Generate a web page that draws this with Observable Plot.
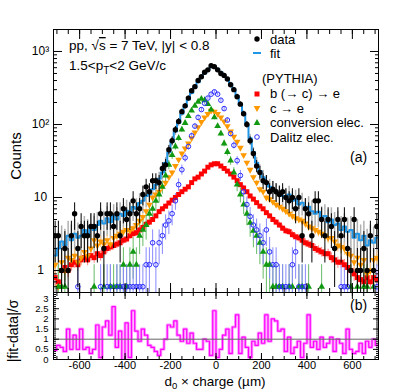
<!DOCTYPE html>
<html><head><meta charset="utf-8">
<script src="https://cdn.jsdelivr.net/npm/d3@7"></script>
<script src="https://cdn.jsdelivr.net/npm/@observablehq/plot@0.6"></script>
<style>
body{margin:0;background:#fff;}
#wrap{position:relative;width:407px;height:391px;overflow:hidden;font-family:"Liberation Sans",Arial,Helvetica,sans-serif;}
#wrap svg{position:absolute;left:0;}
</style></head><body><div id="wrap"></div>
<script>
// ---- binning (categories) ----
const binLow = -715, binWidth = 14.3, nBins = 100;
const centers = d3.range(nBins).map(i => binLow + binWidth * (i + 0.5));

// ---- series values ----
const dataCounts = [3,3,1,2,1,3,6,2,4,3, 3,4,4,3,6,2,6,6,4,6, 3,7,5,6,9,6,7,11,14,12, 17,17,16,25,28,45,60,85,110,150, 180,230,290,330,400,450,520,560,640,620, 560,500,470,420,350,300,240,190,140,100, 60,40,27,22,17,16,12,13,12,11, 12,10,9,10,7,10,3,7,6,3, 9,9,5,3,5,4,2,5,3,5, 2,1,5,1,1,2,1,3,1,4];
const fitValues = [1.6,2.0,2.5,2.2,3.0,2.6,3.2,2.8,3.0,3.6, 3.2,4.0,3.6,4.2,4.8,4.4,5.2,4.6,5.6,5.0, 6.0,5.6,6.6,6.2,7.4,7.0,8.4,9.0,10.5,11, 13,15,18,22,30,42,58,80,105,140, 175,220,270,320,380,440,500,560,610,620, 580,520,470,420,360,300,245,190,140,100, 65,42,30,23,19,16,14,13,12,11, 10.5,10,11,9,9.5,8,8.5,7,7.5,6.5, 6,6.4,5.2,5.6,4.6,5,4.2,4.4,3.6,4, 3.4,3.6,2.8,3.2,2.6,3.0,2.2,2.6,2.4,2.8];
const bceValues = [0.8,0.7,1.0,1.1,1.0,1.2,1.3,1.2,1.4,1.5, 1.4,1.6,1.5,1.7,1.6,1.8,2.0,2.1,2.2,2.3, 2.4,2.6,2.7,3.0,3.2,3.3,3.6,3.9,4.3,4.6, 5.0,5.6,6.4,7.0,7.6,8.4,9.2,10,11,12, 13,14,16,18,19,21,23,26,28,29, 29,27,25,23,21,19,17,15,13.5,12, 10.5,9.5,8.5,7.6,7.0,6.2,5.6,5.0,4.6,4.2, 3.8,3.5,3.4,3.1,2.9,2.8,2.6,2.4,2.3,2.2, 2.0,1.9,1.8,1.7,1.7,1.5,1.4,1.3,1.3,1.2, 1.1,1.0,0.9,0.8,0.75,0.7,0.8,0.7,0.8,0.75];
const ceValues = [1.2,0.6,1.3,1.0,1.5,1.4,1.6,1.3,1.5,1.8, 1.6,2.0,2.6,2.2,2.5,2.3,2.6,2.3,2.8,3.0, 3.2,3.4,3.6,3.5,3.8,4.2,4.8,5.4,6.5,8, 10,11,12,14,16,19,22,27,33,40, 47,55,65,78,92,108,125,140,155,150, 140,125,110,95,80,68,58,48,38,30, 24,19,16,13,12,10,9.5,8.7,8,7.5, 7,6.5,6,5.6,5.2,5,4.8,4.4,4,3.8, 3.6,3.4,3.2,3,2.8,2.8,2.5,2.2,2.1,2.0, 1.7,1.6,1.3,1.5,1.2,1.4,0.9,1.0,1.4,1.5];
const convValues = [0,0.6,0.6,0.6,0,0,0,0,0,0, 0,0,0.6,0,0,0.6,0,0.6,0.6,0.6, 0.6,1.2,0.6,1.2,1.8,1.2,3.0,3.6,4.2,6, 7,9,11,14,20,28,38,50,65,85, 105,130,155,180,205,225,215,190,160,125, 95,75,55,42,32,22,15,11,8,6, 4.5,3.5,3,2.4,1.8,1.2,1.2,0.6,0.6,0.6, 0.6,0,0.6,0.6,0,0.6,0.6,0,0.6,0, 0,0,0.6,0,0,0,0,0,0,0, 0,0.6,0,0.6,0,0.6,0.6,0,0.6,0];
const dalitzValues = [0,0,0,0,0,0,0,0.6,0,0, 0,0,0,0,0.6,0,0.6,0.6,0,0.6, 0.6,0.6,0.6,0.6,0.6,0.6,0.6,0.6,1.2,1.2, 2.4,1.2,2.4,3.0,4.2,4.8,6,9,15,24, 35,50,70,95,125,160,195,230,260,280, 260,215,165,115,75,52,32,20,12,8, 5.5,4.2,3.6,3.0,2.4,3.6,1.8,1.2,1.2,0.6, 0.6,0.6,0.6,1.2,1.8,0.6,0.6,0.6,0,0, 0,0,0,0,0,0,0,0,0.6,0.6, 0.6,0,0,0,0,0,0,0,0,0.6];
const ratioValues = [0.45,0.7,0.6,0.4,1.5,0.5,1.2,0.5,1.5,0.5, 0.6,0.3,0.5,1.7,0.1,1.6,1.9,1.2,2.6,0.6, 1.4,0,1.8,0.1,2.4,1.4,0.9,1.5,1.2,0.7, 0.6,0.4,0.2,0.5,1.0,1.7,1.6,1.9,1.2,0.9, 1.5,0.8,1.3,0.8,0.5,0.5,1.0,0.9,0.2,2.4, 0.1,0.5,1.2,1.5,0.3,1.6,2.2,0.3,1.1,0.6, 0.1,0.9,0.7,1.3,0.8,2.2,0.9,2.0,1.9,1.4, 1.5,0.4,1.1,0.3,0.6,0.9,0.1,0.8,2.2,0.6, 0.9,0.5,1.1,0.6,0.8,1.1,0.4,1.0,0.8,0.3, 1.5,0.5,0.3,0.4,0.8,0.3,0.9,0.6,1.0,0.7];

// ---- axis ticks ----
const xMajorTicks = [-600,-400,-200,0,200,400,600];
const xMinorTicks = d3.range(-700, 701, 50);
const yMajorTicks = [1,10,100,1000];
const yMinorTicks = [0.6,0.7,0.8,0.9,2,3,4,5,6,7,8,9,20,30,40,50,60,70,80,90,200,300,400,500,600,700,800,900,2000];
const yMajorLabels = ["1","10","10²","10³"];
const rMajorTicks = [0,0.5,1,1.5,2,2.5,3];
const rMinorTicks = d3.range(0, 3.31, 0.1);

const FONT = '"Liberation Sans", Arial, Helvetica, sans-serif';
const xDomain = [-715, 715];
const C = {data:"#000000", fit:"#2196e6", b:"#ff0000", c:"#ff9900", conv:"#119911", dal:"#2a2aff", ratio:"#ff00ff"};

const triangleDown = {
  draw(context, size) {
    const y = -Math.sqrt(size / (Math.sqrt(3) * 3));
    context.moveTo(0, -y * 2);
    context.lineTo(-Math.sqrt(3) * y, y);
    context.lineTo(Math.sqrt(3) * y, y);
    context.closePath();
  }
};

function pts(vals, w) {
  return vals.map((v, i) => ({x: centers[i], y: v, e: Math.sqrt(v * w)}))
    .filter(d => d.y > 0)
    .map(d => ({x: d.x, y: d.y, y1: Math.max(d.y - d.e, 0.1), y2: d.y + d.e}));
}
function steps(vals) {
  const s = vals.map((v, i) => ({x: binLow + i * binWidth, y: v}));
  s.push({x: binLow + nBins * binWidth, y: vals[nBins - 1]});
  return s;
}

const dataPts = pts(dataCounts, 1);
const bPts = pts(bceValues, 0.04);
const cPts = pts(ceValues, 0.08);
const convPts = pts(convValues, 0.6);
const dalPts = pts(dalitzValues, 0.6);
const fitPts = pts(fitValues, 1);

const wrap = document.getElementById("wrap");

const topPlot = Plot.plot({
  width: 407, height: 293,
  marginTop: 29, marginBottom: 1, marginLeft: 53, marginRight: 29,
  x: {type: "linear", domain: xDomain, axis: null},
  y: {type: "log", domain: [0.5, 2000], axis: null},
  style: {fontFamily: FONT, background: "transparent", color: "#000"},
  marks: [
    Plot.ruleX(fitPts, {x: "x", y1: "y1", y2: "y2", stroke: "#b0b0b0", strokeWidth: 1.5, clip: true}),
    Plot.ruleX(bPts, {x: "x", y1: "y1", y2: "y2", stroke: "#ff8080", strokeWidth: 1, clip: true}),
    Plot.ruleX(cPts, {x: "x", y1: "y1", y2: "y2", stroke: "#ffc880", strokeWidth: 1, clip: true}),
    Plot.ruleX(convPts, {x: "x", y1: "y1", y2: "y2", stroke: "#66bb66", strokeWidth: 1, clip: true}),
    Plot.ruleX(dalPts, {x: "x", y1: "y1", y2: "y2", stroke: "#8888ff", strokeWidth: 1, clip: true}),
    Plot.dot(bPts, {x: "x", y: "y", symbol: "square", r: 2.8, fill: C.b, stroke: "none", clip: true}),
    Plot.dot(cPts, {x: "x", y: "y", symbol: triangleDown, r: 2.5, fill: C.c, stroke: "none", clip: true}),
    Plot.dot(convPts, {x: "x", y: "y", symbol: "triangle", r: 2.5, fill: C.conv, stroke: "none", clip: true}),
    Plot.dot(dalPts, {x: "x", y: "y", symbol: "circle", r: 2.3, fill: "none", stroke: C.dal, strokeWidth: 1, clip: true}),
    Plot.line(steps(fitValues), {x: "x", y: "y", curve: "step-after", stroke: C.fit, strokeWidth: 2, clip: true}),
    Plot.ruleX(dataPts, {x: "x", y1: "y1", y2: "y2", stroke: "#000", strokeWidth: 1, clip: true}),
    Plot.dot(dataPts, {x: "x", y: "y", r: 2.7, fill: "#000", stroke: "none", clip: true}),
    Plot.frame({stroke: "#000", strokeWidth: 1}),
    Plot.axisY({anchor: "left", ticks: yMajorTicks, tickSize: 0, tickPadding: 13, textAnchor: "middle", tickFormat: (d, i) => yMajorLabels[yMajorTicks.indexOf(d)], fontSize: 12, label: null}),
    Plot.axisY({anchor: "left", ticks: yMajorTicks, tickSize: -9, fill: "none", label: null}),
    Plot.axisY({anchor: "left", ticks: yMinorTicks, tickSize: -4, fill: "none", label: null}),
    Plot.axisY({anchor: "right", ticks: yMajorTicks, tickSize: -9, fill: "none", label: null}),
    Plot.axisY({anchor: "right", ticks: yMinorTicks, tickSize: -4, fill: "none", label: null}),
    Plot.axisX({anchor: "bottom", ticks: xMajorTicks, tickSize: -9, fill: "none", label: null}),
    Plot.axisX({anchor: "bottom", ticks: xMinorTicks, tickSize: -4, fill: "none", label: null}),
    Plot.axisX({anchor: "top", ticks: xMajorTicks, tickSize: -9, fill: "none", label: null}),
    Plot.axisX({anchor: "top", ticks: xMinorTicks, tickSize: -4, fill: "none", label: null})
  ]
});
topPlot.style.top = "0px";
wrap.appendChild(topPlot);

const botPlot = Plot.plot({
  width: 407, height: 100,
  marginTop: 1, marginBottom: 32, marginLeft: 53, marginRight: 29,
  x: {type: "linear", domain: xDomain, axis: null},
  y: {type: "linear", domain: [0, 3.3], axis: null},
  style: {fontFamily: FONT, background: "transparent", color: "#000"},
  marks: [
    Plot.line(steps(ratioValues), {x: "x", y: "y", curve: "step-after", stroke: "#ff9cff", strokeWidth: 3, clip: true}),
    Plot.line(steps(ratioValues), {x: "x", y: "y", curve: "step-after", stroke: C.ratio, strokeWidth: 1.2, clip: true}),
    Plot.ruleY([1], {stroke: "#666", strokeWidth: 1}),
    Plot.frame({stroke: "#000", strokeWidth: 1}),
    Plot.axisY({anchor: "left", ticks: rMajorTicks, tickSize: 0, tickPadding: 5, tickFormat: d => String(d), fontSize: 9.5, label: null}),
    Plot.axisY({anchor: "left", ticks: rMajorTicks, tickSize: -6, fill: "none", label: null}),
    Plot.axisY({anchor: "left", ticks: rMinorTicks, tickSize: -3, fill: "none", label: null}),
    Plot.axisY({anchor: "right", ticks: rMajorTicks, tickSize: -6, fill: "none", label: null}),
    Plot.axisY({anchor: "right", ticks: rMinorTicks, tickSize: -3, fill: "none", label: null}),
    Plot.axisX({anchor: "bottom", ticks: xMajorTicks, tickSize: 0, tickPadding: 2, tickFormat: d => (d < 0 ? "-" + Math.abs(d) : String(d)), fontSize: 11, label: null}),
    Plot.axisX({anchor: "bottom", ticks: xMajorTicks, tickSize: -6, fill: "none", label: null}),
    Plot.axisX({anchor: "bottom", ticks: xMinorTicks, tickSize: -3, fill: "none", label: null}),
    Plot.axisX({anchor: "top", ticks: xMajorTicks, tickSize: -6, fill: "none", label: null}),
    Plot.axisX({anchor: "top", ticks: xMinorTicks, tickSize: -3, fill: "none", label: null})
  ]
});
botPlot.style.top = "291px";
wrap.appendChild(botPlot);

// ---- overlay: titles, annotations, legend ----
const ov = d3.select(wrap).append("svg").attr("width", 407).attr("height", 391)
  .style("top", "0px").style("font-family", FONT);

const t1 = ov.append("text").attr("x", 69).attr("y", 50).attr("font-size", 13.5);
t1.append("tspan").text("pp, √");
t1.append("tspan").attr("text-decoration", "overline").text("s");
t1.append("tspan").text(" = 7 TeV, |y| < 0.8");
const t2 = ov.append("text").attr("x", 69).attr("y", 70).attr("font-size", 13.5);
t2.append("tspan").text("1.5<p");
t2.append("tspan").attr("dy", 4).attr("font-size", 10).text("T");
t2.append("tspan").attr("dy", -4).text("<2 GeV/c");

ov.append("text").attr("x", 350).attr("y", 162).attr("font-size", 14).text("(a)");
ov.append("text").attr("x", 350).attr("y", 310).attr("font-size", 14).text("(b)");

ov.append("text").attr("transform", "translate(21,156) rotate(-90)").attr("text-anchor", "middle").attr("font-size", 15).text("Counts");
ov.append("text").attr("transform", "translate(18,331) rotate(-90)").attr("text-anchor", "middle").attr("font-size", 14).text("|fit-data|/σ");
const xt = ov.append("text").attr("x", 215).attr("y", 386).attr("text-anchor", "middle").attr("font-size", 13.5);
xt.append("tspan").text("d");
xt.append("tspan").attr("dy", 3).attr("font-size", 9.5).text("0");
xt.append("tspan").attr("dy", -3).text(" × charge (µm)");

// legend
const lg = ov.append("g").attr("font-size", 13);
lg.append("circle").attr("cx", 257).attr("cy", 39).attr("r", 2.7).attr("fill", "#000");
lg.append("text").attr("x", 270).attr("y", 43.5).text("data");
lg.append("line").attr("x1", 253).attr("x2", 261).attr("y1", 53).attr("y2", 53).attr("stroke", C.fit).attr("stroke-width", 2);
lg.append("text").attr("x", 270).attr("y", 58).text("fit");
lg.append("text").attr("x", 262).attr("y", 83).text("(PYTHIA)");
lg.append("path").attr("d", d3.symbol(d3.symbolSquare, 25)()).attr("transform", "translate(257,94)").attr("fill", C.b);
lg.append("text").attr("x", 270).attr("y", 98).text("b (→ c) → e");
lg.append("path").attr("d", d3.symbol(triangleDown, 20)()).attr("transform", "translate(257,108)").attr("fill", C.c);
lg.append("text").attr("x", 270).attr("y", 112.5).text("c → e");
lg.append("path").attr("d", d3.symbol(d3.symbolTriangle, 20)()).attr("transform", "translate(257,123)").attr("fill", C.conv);
lg.append("text").attr("x", 270).attr("y", 127).text("conversion elec.");
lg.append("circle").attr("cx", 257).attr("cy", 137).attr("r", 2.3).attr("fill", "none").attr("stroke", C.dal);
lg.append("text").attr("x", 270).attr("y", 141.5).text("Dalitz elec.");
</script></body></html>
